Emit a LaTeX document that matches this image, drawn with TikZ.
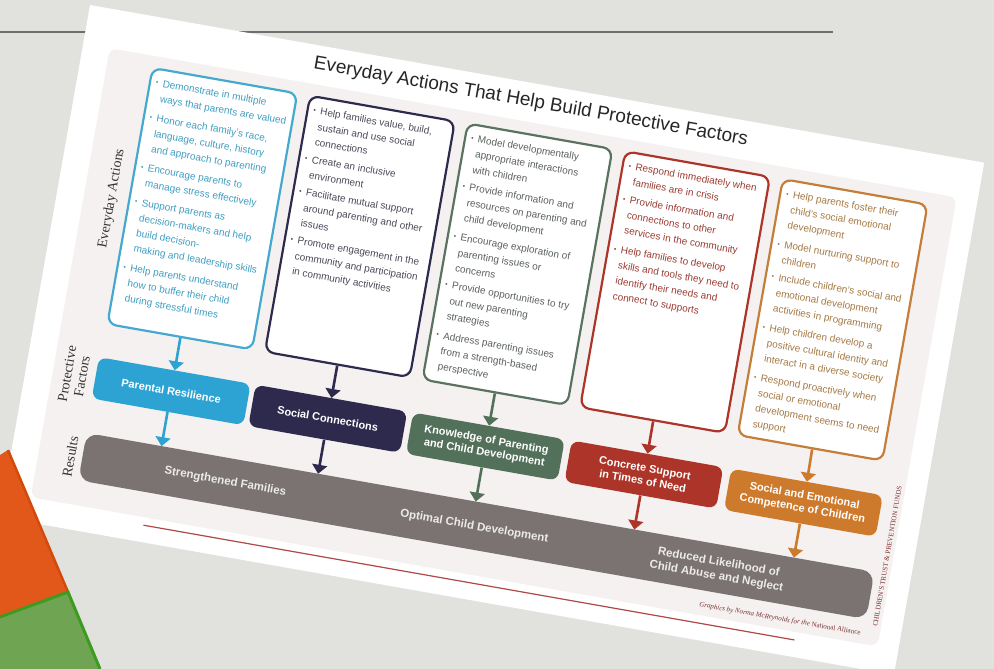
\documentclass[tikz,border=0pt]{standalone}
\usepackage{fontspec}
\setmainfont{Liberation Sans}
\newfontfamily\sidefont{Liberation Serif}
\usetikzlibrary{arrows.meta,positioning}

\definecolor{slidebg}{HTML}{E1E2DE}
\definecolor{ruleline}{HTML}{6E6E6E}
\definecolor{panelbg}{HTML}{F5F1F0}
\definecolor{resilience}{HTML}{2CA3D3}
\definecolor{connections}{HTML}{2D2A4E}
\definecolor{knowledge}{HTML}{52705A}
\definecolor{concrete}{HTML}{AC3428}
\definecolor{competence}{HTML}{CD7A2C}
\definecolor{resilienceline}{HTML}{45A9CF}
\definecolor{knowledgeline}{HTML}{5A7360}
\definecolor{competenceline}{HTML}{C47E3A}
\definecolor{resiliencetext}{HTML}{3F9EC2}
\definecolor{connectionstext}{HTML}{4B4A58}
\definecolor{knowledgetext}{HTML}{5B625C}
\definecolor{concretetext}{HTML}{9B3D33}
\definecolor{competencetext}{HTML}{A57A45}
\definecolor{resultsbar}{HTML}{7B7372}
\definecolor{redrule}{HTML}{B04848}
\definecolor{orangepiece}{HTML}{E2581A}
\definecolor{orangeedge}{HTML}{D24A0C}
\definecolor{greenpiece}{HTML}{6FA552}
\definecolor{greenedge}{HTML}{3E9A20}

\begin{document}
\begin{tikzpicture}[
    x=1pt,
    y=-1pt,
    title/.style={
      inner sep=0,
      font=\fontsize{19}{21}\selectfont,
      text=black!85,
    },
    sidelabel/.style={
      inner sep=0,
      rotate=90,
      align=center,
      font=\sidefont\fontsize{14}{15}\selectfont,
      text=black!80,
    },
    actionbox/.style={
      draw=#1,
      line width=2.2pt,
      rounded corners=9pt,
      fill=white,
      anchor=north,
      inner xsep=6pt,
      inner ysep=10pt,
      font=\fontsize{10}{15.5}\selectfont,
    },
    factorbox/.style={
      fill=#1,
      rounded corners=8pt,
      minimum width=154pt,
      minimum height=42pt,
      anchor=north,
      align=center,
      text=white,
      font=\bfseries\fontsize{11}{13}\selectfont,
    },
    resultlabel/.style={
      inner sep=0,
      align=center,
      text=white!92!black,
      font=\bfseries\fontsize{11.5}{14}\selectfont,
    },
    flow/.style={
      draw=#1,
      line width=2.6pt,
      -{Triangle[width=15pt,length=9pt]},
    },
    creditfont/.style={
      inner sep=0,
      text=redrule!70!black,
      font=\fontsize{7}{8}\selectfont,
    },
  ]
    \newcommand\actitem[1]{%
      \par\noindent\makebox[7pt][l]{\raisebox{1pt}{\scriptsize\textbullet}}%
      \parbox[t]{128pt}{\fontsize{10}{15.5}\selectfont\raggedright #1}%
      \par\vspace{9.5pt}%
    }

    \useasboundingbox (0,0) rectangle (994,669);
    \fill[slidebg] (0,0) rectangle (994,669);
    \draw[ruleline, line width=2pt] (0,32) -- (833,32);

    \begin{scope}[shift={(90,5)}, rotate=-10, transform shape]
    \fill[white] (0,0) rectangle (908,520);
    \fill[panelbg, rounded corners=8pt] (27,39) rectangle (887,495);

    \node[title] (title) at (451,19)
      {Everyday Actions That Help Build Protective Factors};

    \node[sidelabel] (lblactions) at (55,187) {Everyday Actions};
    \node[sidelabel] (lblfactors) at (49,367) {Protective\\Factors};
    \node[sidelabel] (lblresults) at (59,448) {Results};

    % everyday actions
    \node[actionbox=resilienceline, text=resiliencetext] (act1) at (146,50)
    {\parbox[t][240pt][t]{135pt}{\fontsize{10}{15.5}\selectfont
      \actitem{Demonstrate in multiple\\ways that parents are valued}
      \actitem{Honor each family's race,\\language, culture, history\\and approach to parenting}
      \actitem{Encourage parents to\\manage stress effectively}
      \actitem{Support parents as\\decision-makers and help\\build decision-\\making and leadership skills}
      \actitem{Help parents understand\\how to buffer their child\\during stressful times}}};
    \node[actionbox=connections, text=connectionstext] (act2) at (306,50)
    {\parbox[t][240pt][t]{135pt}{\fontsize{10}{15.5}\selectfont
      \actitem{Help families value, build,\\sustain and use social\\connections}
      \actitem{Create an inclusive\\environment}
      \actitem{Facilitate mutual support\\around parenting and other\\issues}
      \actitem{Promote engagement in the\\community and participation\\in community activities}}};
    \node[actionbox=knowledgeline, text=knowledgetext] (act3) at (466,50)
    {\parbox[t][240pt][t]{135pt}{\fontsize{10}{15.5}\selectfont
      \actitem{Model developmentally\\appropriate interactions\\with children}
      \actitem{Provide information and\\resources on parenting and\\child development}
      \actitem{Encourage exploration of\\parenting issues or\\concerns}
      \actitem{Provide opportunities to try\\out new parenting\\strategies}
      \actitem{Address parenting issues\\from a strength-based\\perspective}}};
    \node[actionbox=concrete, text=concretetext] (act4) at (626,50)
    {\parbox[t][240pt][t]{135pt}{\fontsize{10}{15.5}\selectfont
      \actitem{Respond immediately when\\families are in crisis}
      \actitem{Provide information and\\connections to other\\services in the community}
      \actitem{Help families to develop\\skills and tools they need to\\identify their needs and\\connect to supports}}};
    \node[actionbox=competenceline, text=competencetext] (act5) at (786,50)
    {\parbox[t][240pt][t]{135pt}{\fontsize{10}{15.5}\selectfont
      \actitem{Help parents foster their\\child's social emotional\\development}
      \actitem{Model nurturing support to\\children}
      \actitem{Include children's social and\\emotional development\\activities in programming}
      \actitem{Help children develop a\\positive cultural identity and\\interact in a diverse society}
      \actitem{Respond proactively when\\social or emotional\\development seems to need\\support}}};

    % protective factors
    \node[factorbox=resilience] (pf1) at (147,345) {Parental Resilience};
    \node[factorbox=connections] (pf2) at (306,345) {Social Connections};
    \node[factorbox=knowledge] (pf3) at (466,345)
      {Knowledge of Parenting\\and Child Development};
    \node[factorbox=concrete] (pf4) at (627,345)
      {Concrete Support\\in Times of Need};
    \node[factorbox=competence] (pf5) at (789,345)
      {Social and Emotional\\Competence of Children};

    % results
    \node[fill=resultsbar, rounded corners=12pt, minimum width=800pt,
      minimum height=48pt] (results) at (471,446) {};
    \node[resultlabel] (res1) at (216,446) {Strengthened Families};
    \node[resultlabel] (res2) at (469,447) {Optimal Child Development};
    \node[resultlabel] (res3) at (716,447)
      {Reduced Likelihood of\\Child Abuse and Neglect};

    \coordinate (in1) at (147,422);
    \coordinate (in2) at (306,422);
    \coordinate (in3) at (466,422);
    \coordinate (in4) at (627,422);
    \coordinate (in5) at (789,422);

    \draw[flow=resilience] (act1) -- (pf1);
    \draw[flow=connections] (act2) -- (pf2);
    \draw[flow=knowledge] (act3) -- (pf3);
    \draw[flow=concrete] (act4) -- (pf4);
    \draw[flow=competence] (act5) -- (pf5);
    \draw[flow=resilience] (pf1) -- (in1);
    \draw[flow=connections] (pf2) -- (in2);
    \draw[flow=knowledge] (pf3) -- (in3);
    \draw[flow=concrete] (pf4) -- (in4);
    \draw[flow=competence] (pf5) -- (in5);

    \draw[redrule, line width=1.2pt] (143,503) -- (804,503);
    \node[creditfont, anchor=east, font=\sidefont\itshape\fontsize{7}{8}\selectfont]
      (credit) at (868,485)
      {Graphics by Norma McReynolds for the \textsc{National Alliance}};
    \node[creditfont, anchor=west, rotate=90, font=\sidefont\fontsize{7}{8}\selectfont]
      (funds) at (881,476) {CHILDREN'S TRUST \& PREVENTION FUNDS};
    \end{scope}

    %\draw[ruleline] (0,32) -- (90,32);
    \fill[orangepiece] (0,455) -- (8,450) -- (68,592) -- (0,617) -- cycle;
    \draw[orangeedge, line width=2.5pt] (8,450) -- (68,592);
    \fill[greenpiece] (0,617) -- (68,592) -- (100,669) -- (0,669) -- cycle;
    \draw[greenedge, line width=3pt] (0,617) -- (68,592) -- (100,669);
\end{tikzpicture}
\end{document}
